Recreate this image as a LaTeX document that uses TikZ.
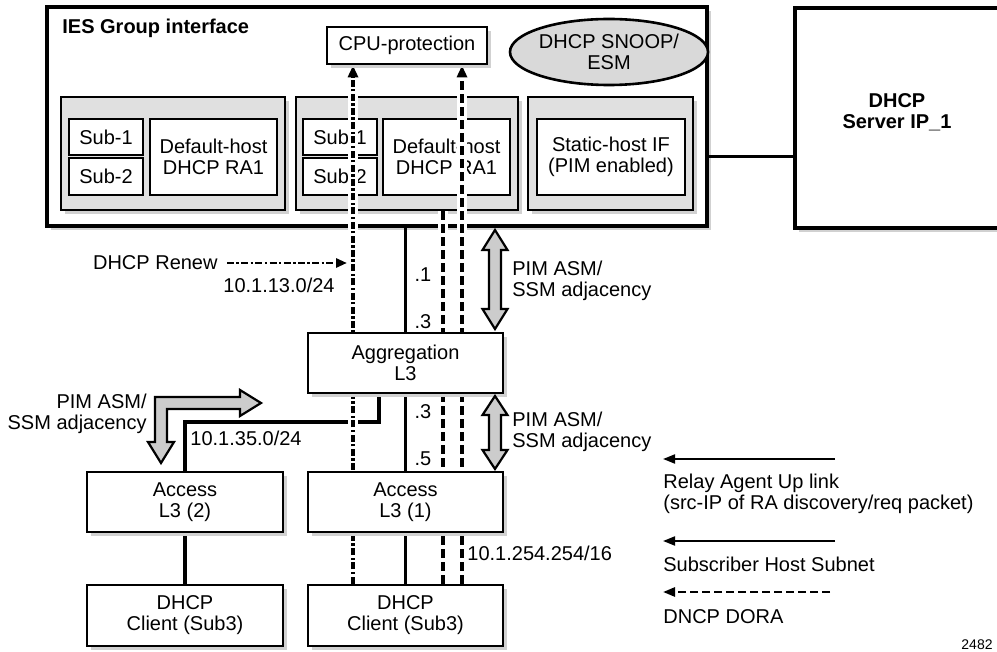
\documentclass[tikz,border=0pt]{standalone}
\usepackage{fontspec}
\setmainfont{Liberation Sans}
\usetikzlibrary{arrows.meta,shadows,shapes.geometric}
\pgfdeclarelayer{back}
\pgfdeclarelayer{wires}
\pgfsetlayers{back,wires,main}

\begin{document}
\begin{tikzpicture}[
    x=0.5pt, y=-0.5pt,
    >={Triangle[length=6pt,width=5pt]},
    font=\fontsize{10}{10.5}\selectfont,
    box/.style={draw, line width=1.4pt, fill=white, align=center, inner sep=1pt, drop shadow={shadow xshift=1.8pt, shadow yshift=-1.8pt, fill=black!18, opacity=1}},
    panel/.style={box, fill=black!12},
    subbox/.style={draw, line width=1.2pt, fill=white, align=center, inner sep=1pt},
    boldtext/.style={font=\fontsize{10}{10.5}\selectfont\bfseries, align=center},
    lbl/.style={inner sep=0pt, align=left},
    link/.style={line width=1.8pt, line join=miter},
    renew/.style={line width=1.8pt, dash pattern=on 3.5pt off 1.2pt on 1.2pt off 1.2pt},
    dora/.style={line width=1.8pt, dash pattern=on 4.5pt off 2pt},
    halo/.style={preaction={draw=white, line width=5pt, solid, -}},
    fat/.style={draw, line width=1.1pt, fill=black!20, line join=miter},
    key/.style={line width=0.9pt, -{Triangle[length=6pt,width=4.5pt]}}
]
\useasboundingbox (0,0) rectangle (997,652);
\clip (0,0) rectangle (997,652);

\begin{pgfonlayer}{back}
% IES group interface
\node[box, line width=1.8pt, minimum width=330pt, minimum height=109.5pt] (ies) at (377,116.5) {};
\node[boldtext, anchor=west, inner sep=0pt] (iestitle) at (62,28) {IES Group interface};
\node[ellipse, draw, line width=1.3pt, fill=black!15, minimum width=86pt, minimum height=33pt, align=center, inner sep=0pt] (snoop) at (609,52) {DHCP SNOOP/\\ESM};

% Panels
\node[panel, minimum width=112pt, minimum height=56.5pt] (p1) at (173,153.5) {};
\node[panel, minimum width=111pt, minimum height=56.5pt] (p2) at (407,153.5) {};
\node[panel, minimum width=82.5pt, minimum height=56.5pt] (p3) at (610.5,153.5) {};
\node[subbox, minimum width=37pt, minimum height=18pt] (p1s1) at (106,137) {Sub-1};
\node[subbox, minimum width=37pt, minimum height=18.5pt] (p1s2) at (106,176.5) {Sub-2};
\node[subbox, minimum width=63.5pt, minimum height=38pt] (p1dh) at (213.5,157) {Default-host\\DHCP RA1};
\node[subbox, minimum width=37pt, minimum height=18pt] (p2s1) at (340,137) {Sub-1};
\node[subbox, minimum width=37pt, minimum height=18.5pt] (p2s2) at (340,176.5) {Sub-2};
\node[subbox, minimum width=63.5pt, minimum height=38pt] (p2dh) at (446.5,157) {Default-host\\DHCP RA1};
\node[subbox, minimum width=74pt, minimum height=38pt] (static) at (611,157) {Static-host IF\\(PIM enabled)};

% DHCP server
\node[box, line width=1.8pt, minimum width=104pt, minimum height=110pt] (server) at (899,118) {};
\node[boldtext, inner sep=0pt] (srvname) at (897,112) {DHCP\\Server IP\_1};
\draw[link, line width=1.5pt] (static.east -| ies.east) -- (static.east -| server.west);
\end{pgfonlayer}

% Boxes
\node[box, minimum width=80pt, minimum height=18.5pt] (cpu) at (407,45.5) {CPU-protection};
\node[box, minimum width=97.5pt, minimum height=30pt] (agg) at (405.5,363) {Aggregation\\L3};
\node[box, minimum width=98pt, minimum height=30pt] (access2) at (185,502) {Access\\L3 (2)};
\node[box, minimum width=97.5pt, minimum height=30pt] (access1) at (405.5,502) {Access\\L3 (1)};
\node[box, minimum width=98pt, minimum height=30.5pt] (client2) at (185,615.5) {DHCP\\Client (Sub3)};
\node[box, minimum width=97.5pt, minimum height=30.5pt] (client1) at (405.5,615.5) {DHCP\\Client (Sub3)};

% Links
\coordinate (xr) at (353,0);
\coordinate (xu) at (443,0);
\coordinate (xd) at (462,0);
\coordinate (jog) at (379,422);
\begin{pgfonlayer}{wires}
\draw[link] (ies.south -| agg.north) -- (agg.north);
\draw[link] (agg.south) -- (access1.north);
\draw[link] (access1.south) -- (client1.north);
\draw[link] (agg.south -| jog) -- (jog) -- (jog -| access2.north) -- (access2.north);
\draw[link] (access2.south) -- (client2.north);
\draw[dora, halo] (p2.south -| xu) -- (client1.north -| xu);
\draw[renew, halo, ->] (client1.north -| xr) -- (cpu.south -| xr);
\draw[dora, halo, ->] (client1.north -| xd) -- (cpu.south -| xd);
\end{pgfonlayer}

% Labels
\node[lbl] (ip1) at (423,275) {.1};
\node[lbl] (ip3a) at (423,322) {.3};
\node[lbl] (ip3b) at (423,412) {.3};
\node[lbl] (ip5) at (423,459) {.5};
\node[lbl, anchor=east] (renewlbl) at (218,263) {DHCP Renew};
\node[lbl, anchor=east] (net13) at (335,285) {10.1.13.0/24};
\coordinate (renewend) at (347,263);
\draw[renew, line width=1.4pt, -{Triangle[length=5.5pt,width=4.5pt]}] ([xshift=4.5pt]renewlbl.east) -- (renewend);
\node[lbl, anchor=west] (net35) at (190,438) {10.1.35.0/24};
\node[lbl, anchor=west] (net254) at (467,553) {10.1.254.254/16};

% PIM adjacencies
\draw[fat] (495,230) -- ++(12.5,20) -- ++(-6.5,0) -- ++(0,59) -- ++(6.5,0) -- ++(-12.5,20) -- ++(-12.5,-20) -- ++(6.5,0) -- ++(0,-59) -- ++(-6.5,0) -- cycle;
\draw[fat] (495,396) -- ++(12.5,19) -- ++(-6.5,0) -- ++(0,35) -- ++(6.5,0) -- ++(-12.5,19) -- ++(-12.5,-19) -- ++(6.5,0) -- ++(0,-35) -- ++(-6.5,0) -- cycle;
\draw[fat] (155,397) -- (240,397) -- (240,390) -- (261,403) -- (240,416) -- (240,409) -- (167,409) -- (167,442) -- (174,442) -- (161,463) -- (148,442) -- (155,442) -- cycle;
\node[lbl, anchor=west] (pimup) at (512,281) {PIM ASM/\\SSM adjacency};
\node[lbl, anchor=west] (pimlow) at (512,432) {PIM ASM/\\SSM adjacency};
\node[lbl, anchor=east, align=right] (pimleft) at (147,414) {PIM ASM/\\SSM adjacency};

% Legend
\coordinate (key1) at (835,459);
\coordinate (key2) at (835,541);
\coordinate (key3) at (830,592);
\draw[key] (key1) -- (key1 -| 663,0);
\node[lbl, anchor=west] (keyuplink) at (663,494) {Relay Agent Up link\\(src-IP of RA discovery/req packet)};
\draw[key] (key2) -- (key2 -| 663,0);
\node[lbl, anchor=west] (keysubnet) at (663,564) {Subscriber Host Subnet};
\draw[key, line width=1.3pt, dash pattern=on 4pt off 2pt] (key3) -- (key3 -| 663,0);
\node[lbl, anchor=west] (keydora) at (663,617) {DNCP DORA};
\node[lbl, font=\fontsize{7}{8}\selectfont] (fignum) at (977,645) {2482};

\end{tikzpicture}
\end{document}
